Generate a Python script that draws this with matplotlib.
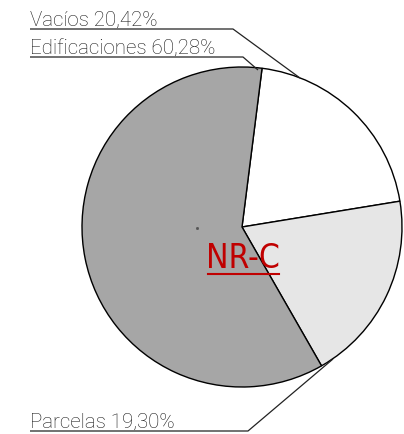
import matplotlib.pyplot as plt

# chart data
labels = ["Vacíos", "Parcelas", "Edificaciones"]
shares = [20.42, 19.30, 60.28]
colors = ["#ffffff", "#e6e6e6", "#a6a6a6"]
title = "NR-C"

W, H = 404, 435
fig = plt.figure(figsize=(W / 100, H / 100), dpi=100)
ax = fig.add_axes([0, 0, 1, 1])

cx, cy, r = 242, H - 228, 160
ax.pie(shares, colors=colors, startangle=82.8, counterclock=False,
       center=(cx, cy), radius=r, frame=True,
       wedgeprops=dict(edgecolor="black", linewidth=1.0))
ax.set_xlim(0, W)
ax.set_ylim(0, H)
ax.axis("off")

font = dict(family=["Roboto", "DejaVu Sans"], fontweight="light", fontsize=14.8, color="#1a1a1a")

def leader(text, x0, y0, x1, y1, x2, y2):
    # label sits on a line that bends towards the pie
    ax.text(x0, H - y0 + 4, text, ha="left", va="baseline", **font)
    ax.plot([x0, x1, x2], [H - y0, H - y1, H - y2], color="#222222", lw=0.9,
            solid_capstyle="butt")

def pct(v):
    return f"{v:.2f}%".replace(".", ",")

leader(f"{labels[0]} {pct(shares[0])}", 30, 30, 233, 30, 300, 79)
leader(f"{labels[2]} {pct(shares[2])}", 30, 58, 243, 58, 258, 71)
leader(f"{labels[1]} {pct(shares[1])}", 30, 432, 248, 432, 333, 360)

ax.text(243, H - 268, title, ha="center", va="baseline", color="#c00000",
        fontsize=24, family="DejaVu Sans", fontstretch="condensed")
ax.plot([208, 279], [H - 275, H - 275], color="#c00000", lw=1.5)
ax.plot([197], [H - 229], marker="s", ms=1, color="#555555")

fig.savefig("out.png", dpi=100)
